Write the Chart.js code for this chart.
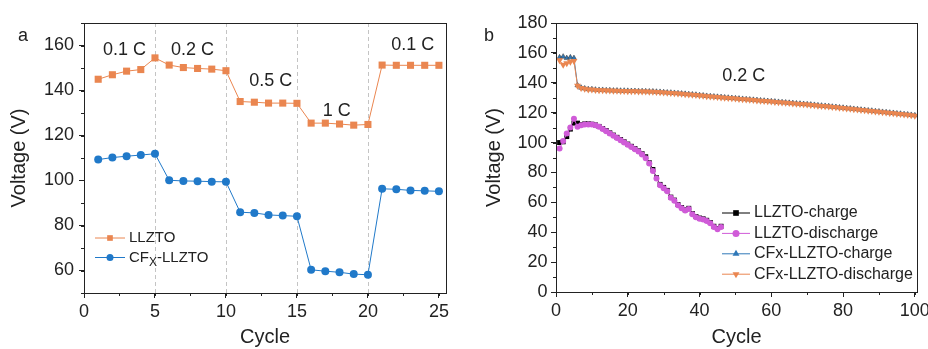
<!DOCTYPE html>
<html>
<head>
<meta charset="utf-8">
<script src="https://cdn.jsdelivr.net/npm/chart.js@4"></script>
<style>
  html, body { margin: 0; padding: 0; background: #fff; overflow: hidden; }
  #wrap { position: relative; width: 928px; height: 349px; overflow: hidden; }
  canvas { position: absolute; top: 0; }
  #chartA { left: 0; }
  #chartB { left: 464px; }
</style>
</head>
<body>
<div id="wrap">
  <canvas id="chartA" width="464" height="349"></canvas>
  <canvas id="chartB" width="480" height="349"></canvas>
</div>
<script>
// ---- panel a: rate capability ----
const cyclesA = [1, 2, 3, 4, 5, 6, 7, 8, 9, 10, 11, 12, 13, 14, 15, 16, 17, 18, 19, 20, 21, 22, 23, 24, 25];
const llztoA = [145, 147, 148.6, 149.3, 154.5, 151.3, 150.2, 149.8, 149.5, 148.8,
  135.1, 134.8, 134.4, 134.4, 134.3, 125.5, 125.5, 125.1, 124.6, 124.9,
  151.3, 151.2, 151.2, 151.2, 151.2];
const cfxA = [109.3, 110.2, 110.8, 111.3, 111.9, 100.1, 99.8, 99.7, 99.5, 99.4,
  85.9, 85.6, 84.7, 84.4, 84.1, 60.3, 59.7, 59.2, 58.4, 58.1,
  96.3, 96.1, 95.6, 95.4, 95.2];
const xTicksA = [0, 5, 10, 15, 20, 25];
const yTicksA = [60, 80, 100, 120, 140, 160];
const rateBreaks = [5, 10, 15, 20];
const rateLabels = ['0.1 C', '0.2 C', '0.5 C', '1 C', '0.1 C'];

// ---- panel b: cycling at 0.2 C ----
const cyclesB = Array.from({ length: 100 }, (_, i) => i + 1);
const llztoCharge = [100, 100.5, 104, 109, 113, 113, 112, 112.5, 112.5, 112.3,
  111.8, 110.8, 109.4, 108, 106.5, 105, 103.5, 102, 100.5, 99,
  97.5, 96, 94.5, 92.5, 90.5, 86.5, 82, 76.5, 72, 70,
  68, 63.5, 61.5, 58.5, 56.5, 55, 56, 52.5, 50.5, 49.5,
  49, 48, 46.5, 44, 42.5, 44];
const llztoDischarge = [96, 101, 106, 110, 116, 110.5, 111.5, 112, 112, 112,
  111.5, 110.5, 109, 107.5, 106, 104.5, 103, 101.5, 100, 98.5,
  97, 95.5, 94, 92, 89.5, 86, 81, 76, 71.5, 69.5,
  67.5, 63, 61, 58, 56, 54.5, 55.5, 52, 50, 49,
  48.5, 47.5, 46, 43.5, 42, 43.5];
const cfxCharge = [157, 157.5, 156.5, 157, 156.5, 138.3, 136.7, 136.2, 135.7, 135.7,
  135.4, 135.2, 135.2, 135, 135, 134.8, 134.8, 134.7, 134.7, 134.6,
  134.5, 134.5, 134.4, 134.4, 134.3, 134.2, 134.2, 134, 133.9, 133.7,
  133.5, 133.4, 133.2, 133, 132.8, 132.6, 132.4, 132.2, 132, 131.7,
  131.5, 131.2, 131, 130.8, 130.6, 130.4, 130.2, 130, 129.8, 129.6,
  129.4, 129.2, 129, 128.8, 128.6, 128.4, 128.2, 128, 127.8, 127.6,
  127.4, 127.2, 127, 126.8, 126.6, 126.4, 126.2, 126, 125.8, 125.6,
  125.4, 125.2, 124.9, 124.7, 124.5, 124.3, 124, 123.8, 123.5, 123.3,
  123, 122.8, 122.5, 122.3, 122, 121.8, 121.5, 121.3, 121, 120.8,
  120.5, 120.3, 120, 119.8, 119.5, 119.3, 119, 118.8, 118.5, 118.2];
const cfxDischarge = [155, 152, 153, 154, 154.5, 138, 136.5, 136, 135.5, 135.5,
  135.2, 135, 135, 134.8, 134.8, 134.6, 134.6, 134.5, 134.5, 134.4,
  134.3, 134.3, 134.2, 134.2, 134.1, 134, 134, 133.8, 133.7, 133.5,
  133.3, 133.2, 133, 132.8, 132.6, 132.4, 132.2, 132, 131.8, 131.5,
  131.3, 131, 130.8, 130.6, 130.4, 130.2, 130, 129.8, 129.6, 129.4,
  129.2, 129, 128.8, 128.6, 128.4, 128.2, 128, 127.8, 127.6, 127.4,
  127.2, 127, 126.8, 126.6, 126.4, 126.2, 126, 125.8, 125.6, 125.4,
  125.2, 125, 124.7, 124.5, 124.3, 124.1, 123.8, 123.6, 123.3, 123.1,
  122.8, 122.6, 122.3, 122.1, 121.8, 121.6, 121.3, 121.1, 120.8, 120.6,
  120.3, 120.1, 119.8, 119.6, 119.3, 119.1, 118.8, 118.6, 118.3, 118];
const xTicksB = [0, 20, 40, 60, 80, 100];
const yTicksB = [0, 20, 40, 60, 80, 100, 120, 140, 160, 180];

const FONT = '"Liberation Sans", Arial, sans-serif';
const ink = '#222';
const orange = '#EA8650';
const blue = '#2079C9';
const magenta = '#D05BD8';
const triBlue = '#2F78B8';

Chart.defaults.font.family = FONT;
Chart.defaults.color = ink;

// frame, minor ticks, dashed dividers, text labels, hand-drawn legend
const decor = {
  id: 'decor',
  beforeDatasetsDraw(chart, args, o) {
    const { ctx, chartArea: a, scales: { x } } = chart;
    if (!o.dividers) return;
    ctx.save();
    ctx.strokeStyle = '#c4c4c4';
    ctx.lineWidth = 1;
    ctx.setLineDash([4, 3]);
    o.dividers.forEach(v => {
      const px = Math.round(x.getPixelForValue(v)) + 0.5;
      ctx.beginPath();
      ctx.moveTo(px, a.top);
      ctx.lineTo(px, a.bottom);
      ctx.stroke();
    });
    ctx.restore();
  },
  afterDraw(chart, args, o) {
    const { ctx, chartArea: a, scales: { x, y } } = chart;
    ctx.save();
    ctx.strokeStyle = ink;
    ctx.lineWidth = 1;
    ctx.strokeRect(Math.round(a.left) + 0.5, Math.round(a.top) + 0.5,
      Math.round(a.right - a.left), Math.round(a.bottom - a.top));

    ctx.beginPath();
    for (let v = x.min; v <= x.max + 1e-6; v += o.minorX) {
      const px = Math.round(x.getPixelForValue(v)) + 0.5;
      ctx.moveTo(px, a.bottom);
      ctx.lineTo(px, a.bottom + 3);
    }
    for (let v = y.min; v <= y.max + 1e-6; v += o.minorY) {
      const py = Math.round(y.getPixelForValue(v)) + 0.5;
      ctx.moveTo(a.left, py);
      ctx.lineTo(a.left - 3, py);
    }
    ctx.stroke();

    ctx.fillStyle = ink;
    ctx.textAlign = 'center';
    ctx.textBaseline = 'middle';
    ctx.font = '18px ' + FONT;
    (o.notes || []).forEach(n => {
      ctx.fillText(n.text, x.getPixelForValue(n.x), y.getPixelForValue(n.y));
    });
    ctx.fillText(o.letter.text, o.letter.x, o.letter.y);

    const lg = o.legend;
    lg.items.forEach((it, i) => {
      const cy = lg.y + i * lg.gap;
      ctx.strokeStyle = it.color;
      ctx.lineWidth = 1;
      ctx.beginPath();
      ctx.moveTo(lg.x, cy);
      ctx.lineTo(lg.x + lg.len, cy);
      ctx.stroke();
      ctx.fillStyle = it.color;
      Chart.helpers.drawPoint(ctx, { pointStyle: it.style, radius: it.radius, rotation: it.rotation || 0, borderWidth: 0 },
        lg.x + lg.len / 2, cy);
      ctx.fillStyle = ink;
      ctx.textAlign = 'left';
      ctx.font = lg.size + 'px ' + FONT;
      let tx = lg.x + lg.len + 4;
      ctx.fillText(it.text, tx, cy);
      if (it.sub) {
        tx += ctx.measureText(it.text).width;
        ctx.font = Math.round(lg.size * 0.8) + 'px ' + FONT;
        ctx.fillText(it.sub, tx, cy + 5);
        tx += ctx.measureText(it.sub).width;
        ctx.font = lg.size + 'px ' + FONT;
        ctx.fillText(it.rest, tx, cy);
      }
    });
    ctx.restore();
  }
};

function linearAxis(min, max, tickVals, title, size, tickPad, titlePad) {
  return {
    type: 'linear',
    min,
    max,
    afterBuildTicks: s => { s.ticks = tickVals.map(v => ({ value: v })); },
    afterFit: s => { if (s.isHorizontal()) s.height = size; else s.width = size; },
    grid: { drawOnChartArea: false, drawTicks: true, tickLength: 5, color: ink },
    border: { color: ink, width: 1 },
    ticks: { font: { size: 18 }, color: ink, padding: tickPad, maxRotation: 0 },
    title: { display: true, text: title, font: { size: 20 }, color: ink, padding: titlePad }
  };
}

const baseOptions = {
  responsive: false,
  animation: false,
  events: []
};

new Chart(document.getElementById('chartA'), {
  type: 'line',
  data: {
    labels: cyclesA,
    datasets: [
      { label: 'LLZTO', data: llztoA, borderColor: orange, backgroundColor: orange, borderWidth: 1,
        pointStyle: 'rect', pointRadius: 5, pointBorderWidth: 0 },
      { label: 'CFX-LLZTO', data: cfxA, borderColor: blue, backgroundColor: blue, borderWidth: 1,
        pointStyle: 'circle', pointRadius: 4, pointBorderWidth: 0 }
    ]
  },
  options: {
    ...baseOptions,
    layout: { padding: { top: 23, right: 18, left: 0, bottom: 0 } },
    plugins: {
      legend: { display: false },
      tooltip: { enabled: false },
      decor: {
        dividers: rateBreaks,
        minorX: 2.5,
        minorY: 10,
        notes: [
          { text: rateLabels[0], x: 2.85, y: 158 },
          { text: rateLabels[1], x: 7.65, y: 158 },
          { text: rateLabels[2], x: 13.15, y: 144.4 },
          { text: rateLabels[3], x: 17.8, y: 130.7 },
          { text: rateLabels[4], x: 23.15, y: 160 }
        ],
        letter: { text: 'a', x: 23, y: 36 },
        legend: {
          x: 95, y: 238, gap: 19.5, len: 30, size: 15,
          items: [
            { text: 'LLZTO', color: orange, style: 'rect', radius: 4 },
            { text: 'CF', sub: 'X', rest: '-LLZTO', color: blue, style: 'circle', radius: 3.5 }
          ]
        }
      }
    },
    scales: {
      x: linearAxis(0, 25.5, xTicksA, 'Cycle', 56, 3, { top: 0, bottom: 0 }),
      y: linearAxis(50, 170, yTicksA, 'Voltage (V)', 84, 5, { top: 7, bottom: 0 })
    }
  },
  plugins: [decor]
});

new Chart(document.getElementById('chartB'), {
  type: 'line',
  data: {
    labels: cyclesB,
    datasets: [
      { label: 'LLZTO-discharge', data: llztoDischarge, borderColor: magenta, backgroundColor: magenta, borderWidth: 1,
        pointStyle: 'circle', pointRadius: 3, pointBorderWidth: 0 },
      { label: 'LLZTO-charge', data: llztoCharge, borderColor: '#000', backgroundColor: '#000', borderWidth: 1,
        pointStyle: 'rect', pointRadius: 3.5, pointBorderWidth: 0 },
      { label: 'CFx-LLZTO-discharge', data: cfxDischarge, borderColor: orange, backgroundColor: orange, borderWidth: 1,
        pointStyle: 'triangle', pointRotation: 180, pointRadius: 4, pointBorderWidth: 0 },
      { label: 'CFx-LLZTO-charge', data: cfxCharge, borderColor: triBlue, backgroundColor: triBlue, borderWidth: 1,
        pointStyle: 'triangle', pointRadius: 3, pointBorderWidth: 0.6, pointBorderColor: '#444' }
    ]
  },
  options: {
    ...baseOptions,
    layout: { padding: { top: 23, right: 27, left: 0, bottom: 0 } },
    plugins: {
      legend: { display: false },
      tooltip: { enabled: false },
      decor: {
        minorX: 10,
        minorY: 10,
        notes: [{ text: '0.2 C', x: 52.3, y: 144.8 }],
        letter: { text: 'b', x: 25, y: 36 },
        legend: {
          x: 258, y: 213, gap: 20.4, len: 28, size: 16,
          items: [
            { text: 'LLZTO-charge', color: '#000', style: 'rect', radius: 4 },
            { text: 'LLZTO-discharge', color: magenta, style: 'circle', radius: 3.5 },
            { text: 'CFx-LLZTO-charge', color: triBlue, style: 'triangle', radius: 4 },
            { text: 'CFx-LLZTO-discharge', color: orange, style: 'triangle', radius: 4, rotation: 180 }
          ]
        }
      }
    },
    scales: {
      x: linearAxis(0, 100.6, xTicksB, 'Cycle', 57, 3, { top: 0, bottom: 0 }),
      y: linearAxis(0, 180, yTicksB, 'Voltage (V)', 92, 3.5, { top: 18, bottom: 0 })
    }
  },
  plugins: [decor]
});
</script>
</body>
</html>
